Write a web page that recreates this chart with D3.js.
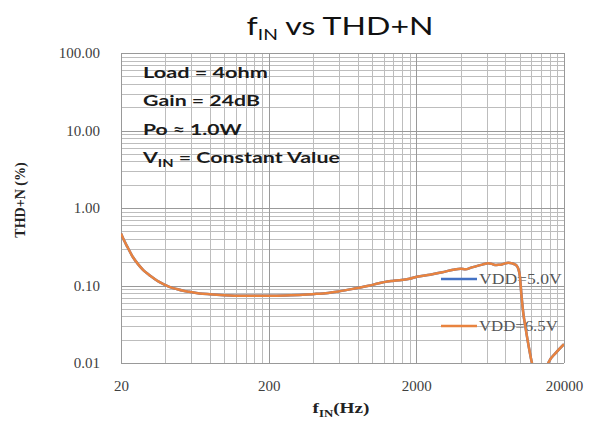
<!DOCTYPE html>
<html>
<head>
<meta charset="utf-8">
<script src="https://cdn.jsdelivr.net/npm/d3@7"></script>
<style>
  html, body { margin: 0; padding: 0; background: #fff; }
  svg { display: block; }
</style>
</head>
<body>
<div id="chart"></div>
<script>
// ---------- data ----------
const freqHz = [20, 21, 22, 24, 26, 28.3, 31, 33.1, 36, 39.7, 44, 47.7, 52, 58, 68, 80, 100, 118, 150, 200,
  260, 341, 420, 487, 600, 780, 950, 1113, 1400, 1800, 2009, 2473, 3000, 3556, 4000, 4300, 4700, 5118,
  5600, 6138, 6500, 6811, 7200, 7567, 8000, 8384, 8900, 9309, 9600, 9800, 10054, 10300, 10600, 11000,
  11560, 12130, 12800, 14500, 15640, 17600, 20000];
const thdVdd50 = [0.47, 0.38, 0.32, 0.235, 0.19, 0.158, 0.137, 0.125, 0.112, 0.102, 0.094, 0.090, 0.086, 0.083,
  0.079, 0.077, 0.075, 0.074, 0.0735, 0.0737, 0.0745, 0.076, 0.078, 0.0795, 0.084, 0.092, 0.099, 0.107, 0.115,
  0.122, 0.1296, 0.138, 0.148, 0.16, 0.165, 0.162, 0.170, 0.178, 0.186, 0.194, 0.19, 0.184, 0.185, 0.187,
  0.193, 0.196, 0.193, 0.187, 0.178, 0.165, 0.131, 0.075, 0.044, 0.028, 0.016, 0.0100, 0.007, 0.0065,
  0.0100, 0.0135, 0.0175];
const thdVdd65 = [0.47, 0.38, 0.32, 0.235, 0.19, 0.158, 0.137, 0.125, 0.112, 0.102, 0.094, 0.090, 0.086, 0.083,
  0.079, 0.077, 0.075, 0.074, 0.0735, 0.0737, 0.0745, 0.076, 0.078, 0.0795, 0.084, 0.092, 0.099, 0.107, 0.115,
  0.122, 0.1296, 0.138, 0.148, 0.16, 0.165, 0.162, 0.170, 0.178, 0.186, 0.194, 0.19, 0.184, 0.185, 0.187,
  0.193, 0.196, 0.193, 0.187, 0.178, 0.165, 0.131, 0.075, 0.044, 0.028, 0.016, 0.0100, 0.007, 0.0065,
  0.0100, 0.0135, 0.0175];
const seriesNames = ["VDD=5.0V", "VDD=6.5V"];
const seriesColors = ["#4472C4", "#E8833F"];
const xTickValues = [20, 200, 2000, 20000];
const xTickLabels = ["20", "200", "2000", "20000"];
const yTickValues = [0.01, 0.1, 1, 10, 100];
const yTickLabels = ["0.01", "0.10", "1.00", "10.00", "100.00"];
const notes = ["Load = 4ohm", "Gain = 24dB", "Po \u2248 1.0W"];

// ---------- layout ----------
const W = 595, H = 423;
const plot = { left: 121, right: 564, top: 53, bottom: 363 };

const svg = d3.select("#chart").append("svg").attr("width", W).attr("height", H);

const x = d3.scaleLog().domain([20, 20000]).range([plot.left, plot.right]);
const y = d3.scaleLog().domain([0.01, 100]).range([plot.bottom, plot.top]);

function fitWidth(sel, target, ax) {
  const bb = sel.node().getBBox();
  const s = target / bb.width;
  sel.attr("transform", `translate(${ax},0) scale(${s},1) translate(${-ax},0)`);
}

// ---------- grid ----------
const minorX = [];
[20, 200, 2000].forEach(d => { for (let k = 2; k <= 9; k++) minorX.push(d * k); });
const minorY = [];
[0.01, 0.1, 1, 10].forEach(d => { for (let k = 2; k <= 9; k++) minorY.push(d * k); });

const grid = svg.append("g");
grid.selectAll(".mx").data(minorX).join("line")
  .attr("x1", d => Math.round(x(d)) + 0.5).attr("x2", d => Math.round(x(d)) + 0.5)
  .attr("y1", plot.top).attr("y2", plot.bottom)
  .attr("stroke", "#bdbdbd").attr("stroke-width", 1);
grid.selectAll(".my").data(minorY).join("line")
  .attr("y1", d => Math.round(y(d)) + 0.5).attr("y2", d => Math.round(y(d)) + 0.5)
  .attr("x1", plot.left).attr("x2", plot.right)
  .attr("stroke", "#bdbdbd").attr("stroke-width", 1);
grid.selectAll(".Mx").data(xTickValues).join("line")
  .attr("x1", d => Math.round(x(d)) + 0.5).attr("x2", d => Math.round(x(d)) + 0.5)
  .attr("y1", plot.top).attr("y2", plot.bottom)
  .attr("stroke", "#999").attr("stroke-width", 1);
grid.selectAll(".My").data(yTickValues).join("line")
  .attr("y1", d => Math.round(y(d)) + 0.5).attr("y2", d => Math.round(y(d)) + 0.5)
  .attr("x1", plot.left).attr("x2", plot.right)
  .attr("stroke", "#999").attr("stroke-width", 1);

// ---------- axes ----------
const xAxis = d3.axisBottom(x).tickValues(xTickValues)
  .tickFormat((d, i) => xTickLabels[i]).tickSize(0).tickPadding(17);
const gx = svg.append("g").attr("transform", `translate(0,${plot.bottom})`).call(xAxis);
gx.select(".domain").remove();
gx.selectAll("text").attr("font-family", "'Liberation Serif', serif").attr("font-size", 15).attr("fill", "#404040");

const yAxis = d3.axisLeft(y).tickValues(yTickValues)
  .tickFormat((d, i) => yTickLabels[i]).tickSize(0).tickPadding(21);
const gy = svg.append("g").attr("transform", `translate(${plot.left},0)`).call(yAxis);
gy.select(".domain").remove();
gy.selectAll("text").attr("font-family", "'Liberation Serif', serif").attr("font-size", 15).attr("fill", "#404040");

// axis titles
const yTitle = svg.append("text")
  .attr("transform", "translate(25,200) rotate(-90)")
  .attr("text-anchor", "middle")
  .attr("font-family", "'Liberation Serif', serif").attr("font-weight", "bold")
  .attr("font-size", 14).attr("fill", "#222")
  .text("THD+N (%)");

const xTitle = svg.append("text")
  .attr("x", 341).attr("y", 413).attr("text-anchor", "middle")
  .attr("font-family", "'Liberation Serif', serif").attr("font-weight", "bold")
  .attr("font-size", 15).attr("fill", "#222");
xTitle.append("tspan").text("f");
xTitle.append("tspan").attr("font-size", 10).attr("dy", 4).text("IN");
xTitle.append("tspan").attr("dy", -4).text("(Hz)");
fitWidth(xTitle, 57, 341);

// ---------- title ----------
const title = svg.append("text")
  .attr("x", 340).attr("y", 35).attr("text-anchor", "middle")
  .attr("font-family", "Lato, 'Open Sans', sans-serif")
  .attr("font-size", 25).attr("fill", "#111");
title.append("tspan").text("f");
title.append("tspan").attr("font-size", 15).attr("dy", 5).text("IN");
title.append("tspan").attr("dy", -5).text(" vs THD+N");
fitWidth(title, 187, 340);

// ---------- annotation ----------
const noteBase = [78, 106.5, 135];
const noteW = [125, 117, 99];
notes.forEach((t, i) => {
  const n = svg.append("text")
    .attr("x", 143).attr("y", noteBase[i])
    .attr("font-family", "Lato, 'Open Sans', sans-serif").attr("font-weight", "bold")
    .attr("font-size", 16).attr("fill", "#1a1a1a").text(t);
  fitWidth(n, noteW[i], 143);
});
const vin = svg.append("text")
  .attr("x", 143).attr("y", 163.5)
  .attr("font-family", "Lato, 'Open Sans', sans-serif").attr("font-weight", "bold")
  .attr("font-size", 16).attr("fill", "#1a1a1a");
vin.append("tspan").text("V");
vin.append("tspan").attr("font-size", 11).attr("dy", 4).text("IN");
vin.append("tspan").attr("dy", -4).text(" = Constant Value");
fitWidth(vin, 199, 143);

// ---------- legend ----------
const legY = [279, 326];
const legW = [83, 79];
seriesNames.forEach((name, i) => {
  svg.append("line")
    .attr("x1", 441).attr("x2", 477).attr("y1", legY[i]).attr("y2", legY[i])
    .attr("stroke", seriesColors[i]).attr("stroke-width", 2.5);
  const t = svg.append("text")
    .attr("x", 479).attr("y", legY[i]).attr("dy", "0.35em")
    .attr("font-family", "'Liberation Serif', serif")
    .attr("font-size", 15).attr("fill", "#555").text(name);
  fitWidth(t, legW[i], 479);
});

// ---------- series ----------
svg.append("clipPath").attr("id", "plotclip").append("rect")
  .attr("x", plot.left).attr("y", plot.top)
  .attr("width", plot.right - plot.left).attr("height", plot.bottom - plot.top);

const line = d3.line()
  .x(d => x(d[0])).y(d => y(d[1]))
  .curve(d3.curveMonotoneX);

const seriesData = [thdVdd50, thdVdd65];
const gs = svg.append("g").attr("clip-path", "url(#plotclip)");
seriesData.forEach((vals, i) => {
  gs.append("path")
    .datum(freqHz.map((f, j) => [f, vals[j]]))
    .attr("fill", "none")
    .attr("stroke", seriesColors[i])
    .attr("stroke-width", 2.5)
    .attr("stroke-linejoin", "round")
    .attr("d", line);
});
</script>
</body>
</html>
